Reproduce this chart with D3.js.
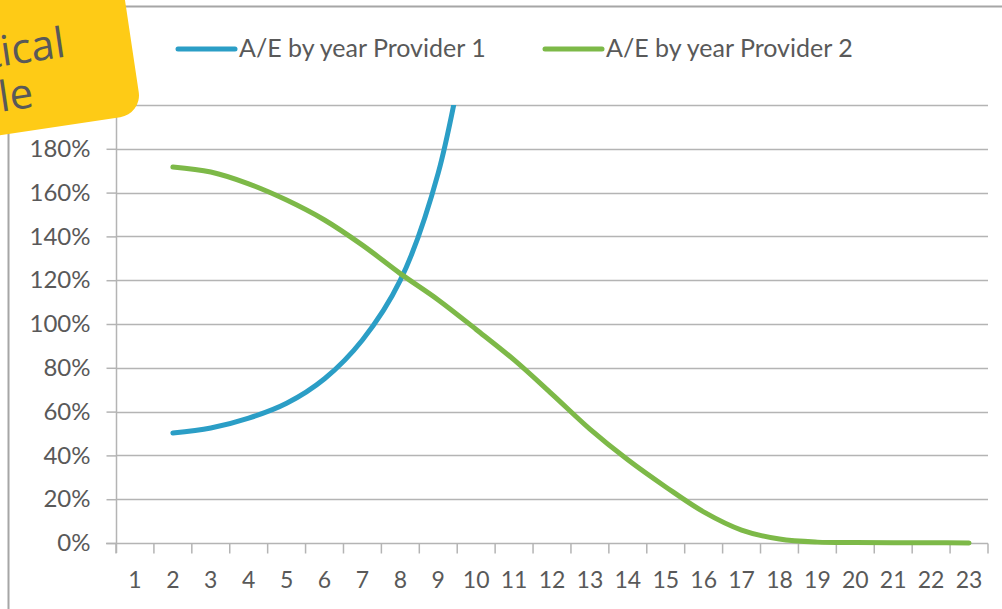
<!DOCTYPE html>
<html>
<head>
<meta charset="utf-8">
<script src="https://cdn.jsdelivr.net/npm/d3@7"></script>
<style>
  body { margin: 0; background: #ffffff; }
  svg { display: block; font-family: Lato, "Open Sans", sans-serif; }
</style>
</head>
<body>
<div id="chart"></div>
<script>
// categories on the x axis (years)
var years = ["1","2","3","4","5","6","7","8","9","10","11","12","13","14","15","16","17","18","19","20","21","22","23"];

// A/E by year, provider 1 (goes off the top after year 9)
var provider1Years = ["2","3","4","5","6","7","8","9","10"];
var provider1 = [0.502, 0.525, 0.57, 0.638, 0.75, 0.927, 1.20, 1.69, 2.55];

// A/E by year, provider 2
var provider2Years = ["2","3","4","5","6","7","8","9","10","11","12","13","14","15","16","17","18","19","20","21","22","23"];
var provider2 = [1.717, 1.694, 1.64, 1.566, 1.475, 1.36, 1.23, 1.11, 0.975, 0.836, 0.68, 0.52, 0.38, 0.256, 0.142, 0.059, 0.018, 0.004, 0.002, 0.001, 0.001, 0.0];

// y ticks (the 200% one sits under the note)
var yTicks = [0, 0.2, 0.4, 0.6, 0.8, 1.0, 1.2, 1.4, 1.6, 1.8, 2.0];

// series names and colours
var seriesNames = ["A/E by year Provider 1", "A/E by year Provider 2"];
var seriesColors = ["#2b9ec6", "#7db948"];

var width = 1002, height = 609;
var margin = {top: 105, right: 14, bottom: 66, left: 116};
var gridColor = "#b4b4b4";
var textColor = "#595959";

var svg = d3.select("#chart")
    .append("svg")
        .attr("width", width)
        .attr("height", height);

// outer chart frame (only the top and left edges show)
svg.append("line")
    .attr("x1", 8).attr("x2", width)
    .attr("y1", 6.5).attr("y2", 6.5)
    .attr("stroke", "#a6a6a6")
    .attr("stroke-width", 2);
svg.append("line")
    .attr("x1", 8.5).attr("x2", 8.5)
    .attr("y1", 6).attr("y2", height)
    .attr("stroke", "#a6a6a6")
    .attr("stroke-width", 2);

// scales
var x = d3.scaleBand()
    .domain(years)
    .range([margin.left, width - margin.right])
    .padding(0);

var y = d3.scaleLinear()
    .domain([0, 2])
    .range([height - margin.bottom, margin.top]);

// horizontal gridlines
svg.append("g")
    .selectAll("line")
    .data(yTicks.slice(1))
    .enter()
    .append("line")
        .attr("x1", margin.left)
        .attr("x2", width - margin.right)
        .attr("y1", function(d) { return Math.round(y(d)) + 0.5; })
        .attr("y2", function(d) { return Math.round(y(d)) + 0.5; })
        .attr("stroke", gridColor)
        .attr("stroke-width", 1.5);

// y axis
svg.append("g")
    .attr("transform", `translate(${margin.left + 0.5},0)`)
    .call(d3.axisLeft(y)
        .tickValues(yTicks)
        .tickSize(10)
        .tickPadding(16)
        .tickFormat(d3.format(".0%")))
    .call(g => g.select(".domain").attr("stroke", gridColor).attr("stroke-width", 1.5)
        .attr("d", `M0,${margin.top}V${height - margin.bottom + 10}`))
    .call(g => g.selectAll(".tick line").attr("stroke", gridColor).attr("stroke-width", 1.5))
    .call(g => g.selectAll(".tick text")
        .attr("fill", textColor)
        .style("font-size", "24px")
        .style("font-family", "Lato, sans-serif"));

// x axis, ticks sit between the categories
var xAxis = svg.append("g")
    .attr("transform", `translate(0,${Math.round(y(0)) + 0.5})`);

xAxis.append("line")
    .attr("x1", margin.left - 10)
    .attr("x2", width - margin.right)
    .attr("stroke", gridColor)
    .attr("stroke-width", 1.5);

xAxis.selectAll(".xtick")
    .data(years.concat(["end"]))
    .enter()
    .append("line")
        .attr("x1", function(d, i) { return i < years.length ? x(d) : x.range()[1]; })
        .attr("x2", function(d, i) { return i < years.length ? x(d) : x.range()[1]; })
        .attr("y1", 0)
        .attr("y2", 10)
        .attr("stroke", gridColor)
        .attr("stroke-width", 1.5);

xAxis.selectAll(".xlabel")
    .data(years)
    .enter()
    .append("text")
        .attr("x", function(d) { return x(d) + x.bandwidth() / 2; })
        .attr("y", 44)
        .attr("text-anchor", "middle")
        .attr("fill", textColor)
        .style("font-size", "23px")
        .text(function(d) { return d; });

// clip so provider 1 stops at the top of the plot
svg.append("clipPath")
    .attr("id", "plotClip")
    .append("rect")
        .attr("x", margin.left)
        .attr("y", margin.top)
        .attr("width", width - margin.left - margin.right)
        .attr("height", height - margin.top - margin.bottom + 5);

// smooth lines like the spreadsheet ones
var line = d3.line()
    .x(function(d) { return x(d.year) + x.bandwidth() / 2; })
    .y(function(d) { return y(d.value); })
    .curve(d3.curveCatmullRom.alpha(0.5));

var seriesData = [
    provider1Years.map(function(yr, i) { return {year: yr, value: provider1[i]}; }),
    provider2Years.map(function(yr, i) { return {year: yr, value: provider2[i]}; })
];

svg.append("g")
    .attr("clip-path", "url(#plotClip)")
    .selectAll("path")
    .data(seriesData)
    .enter()
    .append("path")
        .attr("d", function(d) { return line(d); })
        .attr("fill", "none")
        .attr("stroke", function(d, i) { return seriesColors[i]; })
        .attr("stroke-width", 5)
        .attr("stroke-linecap", "round")
        .attr("stroke-linejoin", "round");

// legend across the top
var legendX = [178, 545];
var legend = svg.selectAll(".legend")
    .data(seriesNames)
    .enter()
    .append("g")
        .attr("transform", function(d, i) { return `translate(${legendX[i]},49)`; });

legend.append("line")
    .attr("x1", 0)
    .attr("x2", 57)
    .attr("stroke", function(d, i) { return seriesColors[i]; })
    .attr("stroke-width", 5)
    .attr("stroke-linecap", "round");

legend.append("text")
    .attr("x", 61)
    .attr("y", 8)
    .attr("fill", textColor)
    .style("font-size", "25px")
    .text(function(d) { return d; });

// yellow note pinned over the top-left corner
var note = svg.append("g")
    .attr("transform", "translate(142,114) rotate(-8.5)");

note.append("rect")
    .attr("x", -340)
    .attr("y", -220)
    .attr("width", 340)
    .attr("height", 220)
    .attr("rx", 22)
    .attr("fill", "#fecb16");

note.append("text")
    .attr("x", -66)
    .attr("y", -68)
    .attr("text-anchor", "end")
    .attr("fill", textColor)
    .style("font-family", "'Open Sans', sans-serif")
    .style("font-size", "42px")
    .text("Hypothetical");

note.append("text")
    .attr("x", -105)
    .attr("y", -23)
    .attr("text-anchor", "end")
    .attr("fill", textColor)
    .style("font-family", "'Open Sans', sans-serif")
    .style("font-size", "42px")
    .text("example");
</script>
</body>
</html>
